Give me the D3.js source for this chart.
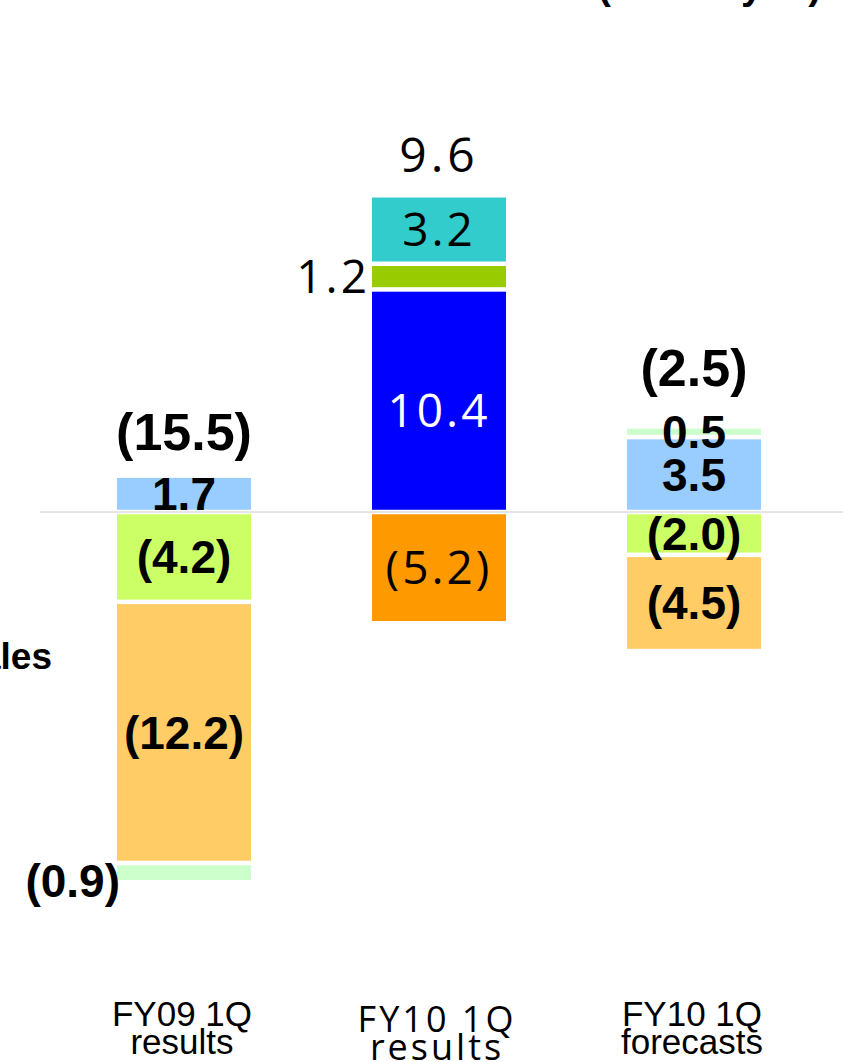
<!DOCTYPE html>
<html>
<head>
<meta charset="utf-8">
<script src="https://cdn.jsdelivr.net/npm/d3@7"></script>
<style>
  html, body { margin: 0; padding: 0; background: #fff; }
  svg { display: block; }
</style>
</head>
<body>
<div id="chart"></div>
<script>
// Category axis
const categories = ["FY09 1Q results", "FY10 1Q results", "FY10 1Q forecasts"];
const categoryLines = [["FY09 1Q", "results"], ["FY10 1Q", "results"], ["FY10 1Q", "forecasts"]];

// Segment values per category (billion yen), stacked away from zero in this order
const seriesKeys = ["blue", "lime", "orange", "other", "cyan"];
const blueValues   = [1.7, 10.4, 3.5];
const limeValues   = [-4.2, 0, -2.0];
const orangeValues = [-12.2, -5.2, -4.5];
const otherValues  = [-0.9, 1.2, 0.5];
const cyanValues   = [0, 3.2, 0];

// Net totals shown above each column
const totalValues = [-15.5, 9.6, -2.5];

const W = 843, H = 1062;

const palette = {
  blue:   ["#99CCFF", "#0000FF", "#99CCFF"],
  lime:   ["#CCFF66", "#CCFF66", "#CCFF66"],
  orange: ["#FFCC66", "#FF9900", "#FFCC66"],
  other:  ["#CCFFCC", "#99CC00", "#CCFFCC"],
  cyan:   ["#33CCCC", "#33CCCC", "#33CCCC"]
};

const rows = categories.map((c, i) => ({
  category: c,
  blue: blueValues[i],
  lime: limeValues[i],
  orange: orangeValues[i],
  other: otherValues[i],
  cyan: cyanValues[i]
}));

const stacked = d3.stack()
  .keys(seriesKeys)
  .offset(d3.stackOffsetDiverging)(rows);

const unit = 21.4, zeroY = 512;
const y = d3.scaleLinear()
  .domain([-24, 24])
  .range([zeroY + 24 * unit, zeroY - 24 * unit]);

const x = d3.scaleBand()
  .domain(categories)
  .range([56.5, 821.5])
  .paddingInner(0.4745)
  .paddingOuter(0.23725);

const boldFont = "'Liberation Sans', Arial, sans-serif";
const thinFont = "'Open Sans', 'DejaVu Sans', sans-serif";
const fontFor = i => (i === 1 ? thinFont : boldFont);
const weightFor = i => (i === 1 ? 400 : 700);
const fmt = v => (v < 0 ? `(${Math.abs(v).toFixed(1)})` : v.toFixed(1));

const svg = d3.select("#chart").append("svg")
  .attr("width", W).attr("height", H)
  .attr("viewBox", `0 0 ${W} ${H}`);

// Unit caption, top right
svg.append("text")
  .attr("x", 598).attr("y", -1)
  .attr("font-family", boldFont).attr("font-weight", 700)
  .attr("font-size", 39)
  .text("(Billion yen)");

// Row caption at the left edge
svg.append("text")
  .attr("x", 52).attr("y", 669)
  .attr("text-anchor", "end")
  .attr("font-family", boldFont).attr("font-weight", 700)
  .attr("font-size", 37)
  .text("Sales");

// Zero baseline
svg.append("line")
  .attr("x1", 40).attr("x2", W)
  .attr("y1", y(0)).attr("y2", y(0))
  .attr("stroke", "#cccccc").attr("stroke-width", 1);

const gap = 2.25;
const segs = [];
stacked.forEach(layer => {
  layer.forEach((d, i) => {
    const v = d.data[layer.key];
    if (v === 0) return;
    segs.push({ key: layer.key, i, v, y0: d[0], y1: d[1] });
  });
});

svg.append("g").selectAll("rect")
  .data(segs)
  .join("rect")
  .attr("x", d => x(categories[d.i]))
  .attr("width", x.bandwidth())
  .attr("y", d => y(Math.max(d.y0, d.y1)) + gap)
  .attr("height", d => Math.abs(y(d.y0) - y(d.y1)) - 2 * gap)
  .attr("fill", d => palette[d.key][d.i]);

// Segment value labels; the thin "other" slices in the first two columns are labelled at their left
const outsideLeft = d => d.key === "other" && d.i < 2;
const labelShift = d => {
  if (d.key === "blue" && d.i === 1) return 10;
  if (outsideLeft(d) && d.i === 0) return 8;
  return 0;
};
svg.append("g").selectAll("text")
  .data(segs)
  .join("text")
  .attr("x", d => outsideLeft(d)
      ? x(categories[d.i]) + (d.i === 0 ? 3 : -2)
      : x(categories[d.i]) + x.bandwidth() / 2)
  .attr("y", d => (y(d.y0) + y(d.y1)) / 2 + (d.i === 1 ? 16 : 16.5) + labelShift(d))
  .attr("text-anchor", d => outsideLeft(d) ? "end" : "middle")
  .attr("font-family", d => fontFor(d.i))
  .attr("font-weight", d => weightFor(d.i))
  .attr("font-size", 46)
  .attr("letter-spacing", d => d.i === 1 ? 3 : 0)
  .attr("fill", d => (d.key === "blue" && d.i === 1) ? "#ffffff" : "#000000")
  .text(d => fmt(d.v));

// Net totals above each column
const posTop = categories.map((c, i) =>
  d3.max(stacked, layer => layer[i][1]));
const totalGap = [26, 23, 40];
svg.append("g").selectAll("text")
  .data(totalValues)
  .join("text")
  .attr("x", (v, i) => x(categories[i]) + x.bandwidth() / 2)
  .attr("y", (v, i) => y(posTop[i]) - totalGap[i])
  .attr("text-anchor", "middle")
  .attr("font-family", (v, i) => fontFor(i))
  .attr("font-weight", (v, i) => weightFor(i))
  .attr("font-size", (v, i) => i === 1 ? 48 : 52)
  .attr("letter-spacing", (v, i) => i === 1 ? 4 : 0)
  .text(v => fmt(v));

// Category labels under the columns
const catG = svg.append("g").selectAll("text")
  .data(categoryLines)
  .join("text")
  .attr("text-anchor", "middle")
  .attr("font-family", (d, i) => fontFor(i))
  .attr("font-weight", 400)
  .attr("font-size", (d, i) => i === 1 ? 36 : 35)
  .attr("letter-spacing", (d, i) => i === 1 ? 3 : 0)
  .attr("transform", (d, i) => `translate(${x(categories[i]) + x.bandwidth() / 2 - 2},${i === 1 ? 1032 : 1026})`);
catG.selectAll("tspan")
  .data(d => d)
  .join("tspan")
  .attr("x", 0)
  .attr("dy", (d, j) => j === 0 ? 0 : 27.5)
  .text(d => d);
</script>
</body>
</html>
